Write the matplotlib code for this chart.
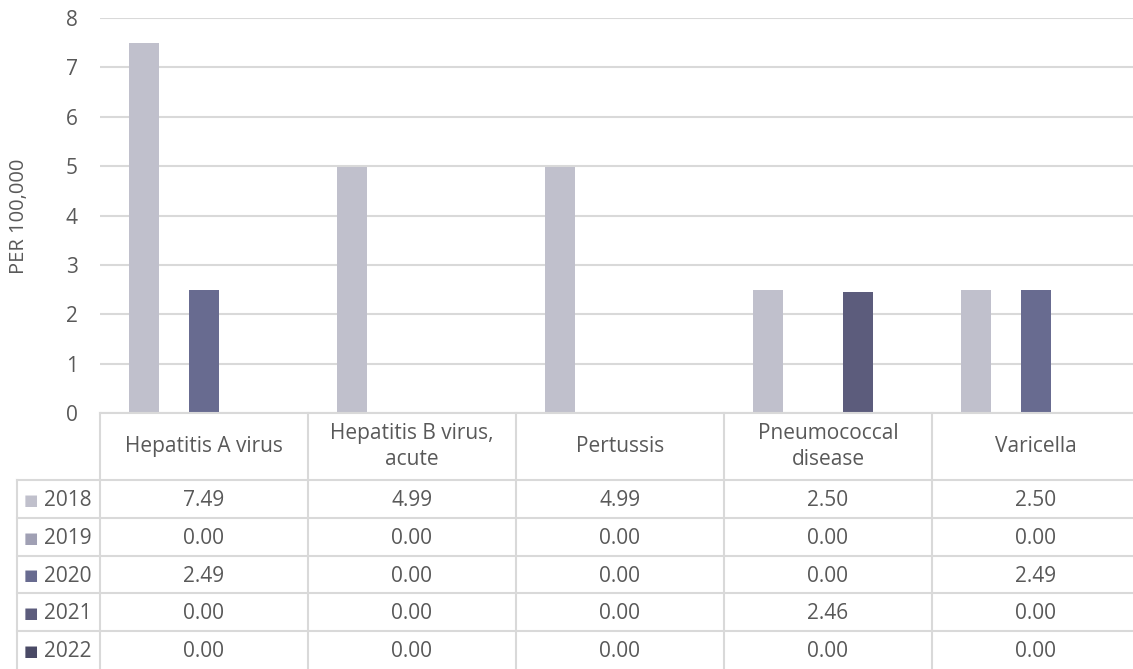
import matplotlib
matplotlib.use('Agg')
import matplotlib.pyplot as plt
import numpy as np

# datos
categorias = ['Hepatitis A virus', 'Hepatitis B virus,\nacute', 'Pertussis',
              'Pneumococcal\ndisease', 'Varicella']
anios = ['2018', '2019', '2020', '2021', '2022']
v2018 = [7.49, 4.99, 4.99, 2.50, 2.50]
v2019 = [0.00, 0.00, 0.00, 0.00, 0.00]
v2020 = [2.49, 0.00, 0.00, 0.00, 2.49]
v2021 = [0.00, 0.00, 0.00, 2.46, 0.00]
v2022 = [0.00, 0.00, 0.00, 0.00, 0.00]
series = [v2018, v2019, v2020, v2021, v2022]
colores = ['#c0c0cc', '#a0a0b4', '#686b90', '#5c5c7c', '#4a4a66']

plt.rcParams['font.family'] = ['Open Sans', 'DejaVu Sans']
gris_txt = '#595959'
gris_lin = '#d9d9d9'
fs = 15

W, H = 1133, 669
fig = plt.figure(figsize=(W / 100, H / 100), dpi=100)

# ejes del grafico (en pixeles de la figura)
x0, x1 = 100, 1140
y_top, y_cero = 18, 413
ax = fig.add_axes([x0 / W, (H - y_cero) / H, (x1 - x0) / W, (y_cero - y_top) / H])

x = np.arange(len(categorias))
width = 0.144
for i, vals in enumerate(series):
    ax.bar(x + (i - 2) * width, vals, width, color=colores[i], linewidth=0, zorder=3)

ax.set_xlim(-0.5, len(categorias) - 0.5)
ax.set_ylim(0, 8)
ax.set_yticks(range(0, 9))
ax.yaxis.grid(True, color=gris_lin, linewidth=1.5, zorder=0)
ax.set_xticks([])
for s in ax.spines.values():
    s.set_visible(False)
ax.tick_params(axis='y', length=0, labelsize=fs, labelcolor=gris_txt, pad=16)
fig.text(19 / W, (H - 216) / H, 'PER 100,000', rotation=90, ha='center', va='center',
         fontsize=fs - 0.5, color=gris_txt)

# tabla de datos abajo
ax_t = fig.add_axes([x0 / W, 0, (x1 - x0) / W, (H - y_cero) / H], sharex=ax)
ax_t.set_ylim(H - y_cero, 0)
ax_t.axis('off')
ax_t.set_xlim(-0.5, len(categorias) - 0.5)

alto_head = 67
alto_fila = (H - y_cero - alto_head) / len(anios)
unidad = (x1 - x0) / len(categorias)
x_izq = -0.5 - 83 / unidad

kw_lin = dict(color=gris_lin, linewidth=1.5, clip_on=False)
ax_t.plot([-0.5, 4.5], [0, 0], **kw_lin)
for j in range(len(categorias) + 1):
    ax_t.plot([j - 0.5, j - 0.5], [0, H - y_cero], **kw_lin)
ax_t.plot([x_izq, x_izq], [alto_head, H - y_cero], **kw_lin)
for r in range(len(anios)):
    yy = alto_head + r * alto_fila
    ax_t.plot([x_izq, 4.5], [yy, yy], **kw_lin)

for j, cat in enumerate(categorias):
    ax_t.text(j, alto_head / 2, cat, ha='center', va='center', fontsize=fs,
              color=gris_txt, linespacing=1.35)

for r, (anio, vals) in enumerate(zip(anios, series)):
    yc = alto_head + (r + 0.5) * alto_fila + 1.5
    ax_t.text(x_izq + 7 / unidad, yc, '\u25a0', ha='left', va='center',
              fontsize=11, color=colores[r], family=['DejaVu Sans'], clip_on=False)
    ax_t.text(x_izq + 27 / unidad, yc, anio, ha='left', va='center', fontsize=fs,
              color=gris_txt, clip_on=False)
    for j, v in enumerate(vals):
        ax_t.text(j, yc, f'{v:.2f}', ha='center', va='center', fontsize=fs,
                  color=gris_txt)

plt.savefig('out.png', dpi=100)
